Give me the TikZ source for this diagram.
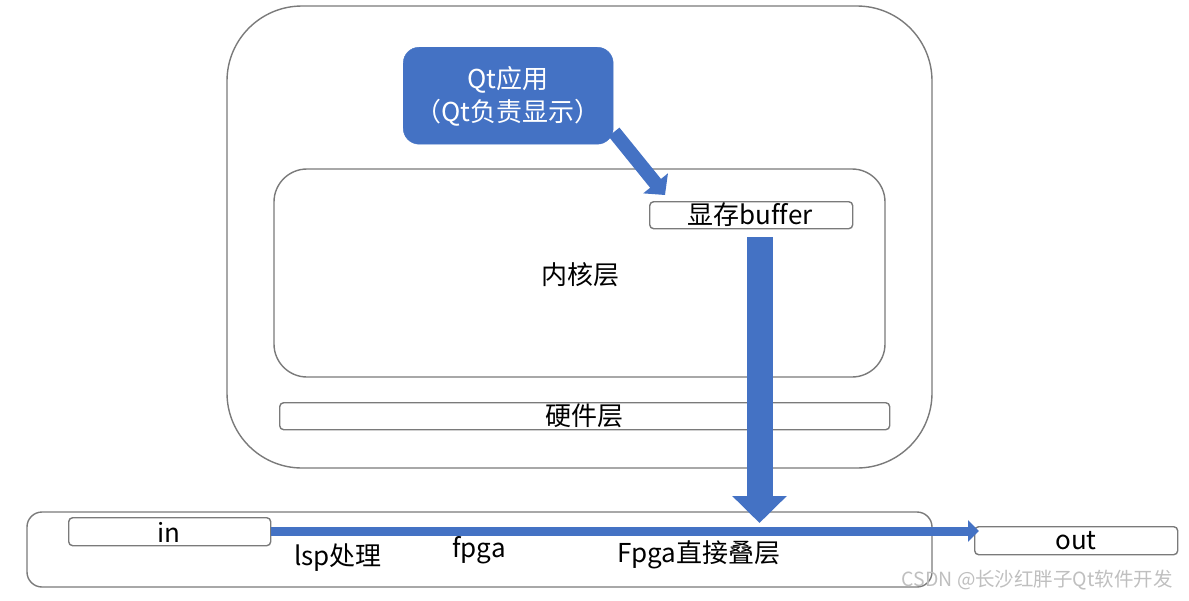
\documentclass[tikz,border=0pt]{standalone}
\usepackage{fontspec}
\setmainfont[Ligatures=NoCommon]{Noto Sans CJK SC}
\usetikzlibrary{arrows.meta}
\definecolor{qtblue}{HTML}{4472C4}
\definecolor{edge}{HTML}{7A7A7A}
\tikzset{
  frame/.style={draw=edge, line width=1.4pt},
  bar/.style={frame, rounded corners=4pt, inner sep=0pt},
  lbl/.style={font=\fontsize{26}{28}\selectfont, inner sep=0pt},
  blockarrow/.style={draw=qtblue, line cap=butt},
}
\begin{document}
\begin{tikzpicture}[x=1pt,y=-1pt]
\useasboundingbox (0,0) rectangle (1189,600);
% outer system box
\draw[frame, rounded corners=75pt] (227,6) rectangle (932,468);
% kernel box
\draw[frame, rounded corners=33pt] (274,169) rectangle (885,377);
\node[lbl] (kernel) at (580,275) {内核层};
% Qt application
\node[fill=qtblue, draw=qtblue, rounded corners=16pt, minimum width=210pt, minimum height=97pt, inner sep=0pt, anchor=north west] (qt) at (403,47) {};
\node[lbl, text=white] (qt1) at (508,80) {Qt应用};
\node[lbl, text=white] (qt2) at (508,113) {（Qt负责显示）};
% buffer
\node[bar, minimum width=203pt, minimum height=27pt, anchor=north west] (buf) at (649,201) {};
\node[lbl] (buft) at (750,215) {显存buffer};
% hardware
\node[bar, minimum width=610pt, minimum height=27pt, anchor=north west] (hw) at (279,402) {};
\node[lbl] (hwt) at (584,416) {硬件层};
% fpga box
\draw[frame, rounded corners=15pt] (27,512) rectangle (932,587);
\node[bar, minimum width=202pt, minimum height=28pt, anchor=north west] (in) at (68,517) {};
\node[lbl] (int) at (169,532) {in};
\node[bar, minimum width=203pt, minimum height=28pt, anchor=north west] (out) at (974,526) {};
\node[lbl] (outt) at (1076,541) {out};
\node[lbl] (lsp) at (338,558) {lsp处理};
\node[lbl] (fpga) at (479,550) {fpga};
\node[lbl] (fd) at (699,555) {Fpga直接叠层};
% arrows
\coordinate (dstart) at (614,132);
\coordinate (dend) at (665,195);
\draw[blockarrow, line width=14pt, -{Triangle[length=15pt,width=31pt]}] (dstart) -- (dend);
\coordinate (vstart) at (759.5,237);
\coordinate (vend) at (759.5,523);
\draw[blockarrow, line width=26pt, -{Triangle[length=27pt,width=53pt]}] (vstart) -- (vend);
\coordinate (hstart) at (in.east |- 0,531);
\coordinate (hend) at (979,531);
\draw[blockarrow, line width=9pt, -{Triangle[length=11pt,width=21pt]}] (hstart) -- (hend);
% watermark
\node[font=\fontsize{19.5}{21}\selectfont, text=black!25, anchor=east, inner sep=0pt] (wm) at (1173,580) {CSDN @长沙红胖子Qt软件开发};
\end{tikzpicture}
\end{document}
